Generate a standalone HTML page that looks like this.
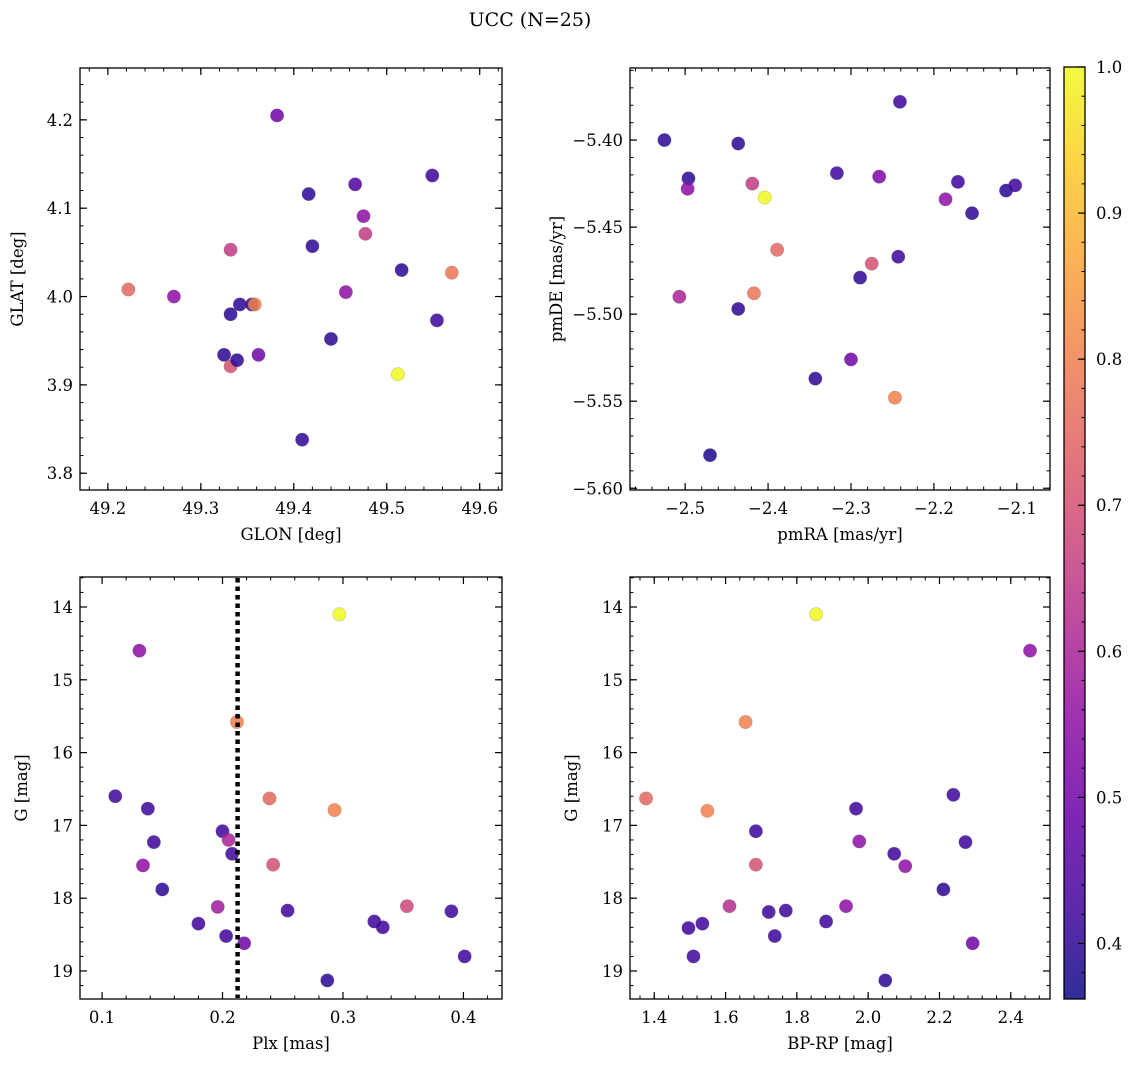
<!DOCTYPE html>
<html><head><meta charset="utf-8">
<style>
html,body{margin:0;padding:0;background:#fff;}
svg{display:block;font-family:"DejaVu Serif","Liberation Serif",serif;}
</style></head>
<body>
<svg id="fig" width="1136" height="1067" viewBox="0 0 1136 1067">
<defs>
<linearGradient id="plasma" x1="0" y1="1" x2="0" y2="0">
<stop offset="0" stop-color="#0d0887"/><stop offset="0.1" stop-color="#41049d"/>
<stop offset="0.2" stop-color="#6a00a8"/><stop offset="0.3" stop-color="#8f0da4"/>
<stop offset="0.4" stop-color="#b12a90"/><stop offset="0.5" stop-color="#cc4778"/>
<stop offset="0.6" stop-color="#e16462"/><stop offset="0.7" stop-color="#f2844b"/>
<stop offset="0.8" stop-color="#fca636"/><stop offset="0.9" stop-color="#fcce25"/>
<stop offset="1" stop-color="#f0f921"/>
</linearGradient>
</defs>
<text x="530" y="26" text-anchor="middle" font-size="19">UCC (N=25)</text>
</svg>
<script>
// ---- data ----
const glon = [49.222,49.271,49.332,49.332,49.325,49.332,49.339,49.342,49.355,49.358,49.362,49.382,49.409,49.416,49.420,49.440,49.466,49.456,49.475,49.477,49.512,49.516,49.549,49.554,49.570];
const glat = [4.008,4.000,4.053,3.980,3.934,3.921,3.928,3.991,3.991,3.991,3.934,4.205,3.838,4.116,4.057,3.952,4.127,4.005,4.091,4.071,3.912,4.030,4.137,3.973,4.027];
const probP1 = [0.75,0.55,0.65,0.4,0.4,0.7,0.4,0.4,0.4,0.8,0.5,0.5,0.4,0.4,0.4,0.4,0.45,0.55,0.55,0.65,1.0,0.4,0.42,0.42,0.78];

const pmra = [-2.525,-2.496,-2.497,-2.507,-2.436,-2.436,-2.419,-2.404,-2.417,-2.389,-2.470,-2.317,-2.343,-2.300,-2.289,-2.275,-2.266,-2.247,-2.243,-2.241,-2.186,-2.171,-2.154,-2.113,-2.102];
const pmde = [-5.400,-5.422,-5.428,-5.490,-5.402,-5.497,-5.425,-5.433,-5.488,-5.463,-5.581,-5.419,-5.537,-5.526,-5.479,-5.471,-5.421,-5.548,-5.467,-5.378,-5.434,-5.424,-5.442,-5.429,-5.426];
const probP2 = [0.4,0.4,0.55,0.6,0.4,0.4,0.65,1.0,0.78,0.75,0.38,0.42,0.4,0.5,0.4,0.7,0.52,0.8,0.42,0.42,0.55,0.42,0.4,0.4,0.42];

const plx = [0.111,0.131,0.134,0.138,0.143,0.150,0.180,0.196,0.200,0.203,0.205,0.208,0.212,0.218,0.239,0.242,0.254,0.287,0.293,0.297,0.326,0.333,0.353,0.390,0.401];
const gmag3 = [16.6,14.6,17.55,16.77,17.23,17.88,18.35,18.12,17.08,18.52,17.2,17.39,15.58,18.62,16.63,17.54,18.17,19.13,16.79,14.1,18.32,18.4,18.11,18.18,18.8];
const probP3 = [0.42,0.55,0.55,0.42,0.42,0.4,0.42,0.58,0.42,0.42,0.6,0.42,0.8,0.5,0.75,0.7,0.42,0.4,0.8,1.0,0.42,0.42,0.68,0.42,0.42];
const plxLine = 0.2125;

const bprp = [1.377,1.549,1.656,1.854,1.685,1.685,1.611,1.496,1.535,1.510,1.721,1.738,1.769,1.882,1.966,1.975,1.938,2.048,2.073,2.104,2.211,2.239,2.273,2.293,2.454];
const gmag4 = [16.63,16.8,15.58,14.1,17.08,17.54,18.11,18.41,18.35,18.8,18.19,18.52,18.17,18.32,16.77,17.22,18.11,19.13,17.39,17.56,17.88,16.58,17.23,18.62,14.6];
const probP4 = [0.75,0.8,0.8,1.0,0.42,0.7,0.62,0.42,0.42,0.42,0.42,0.42,0.42,0.42,0.42,0.55,0.55,0.4,0.42,0.55,0.4,0.42,0.42,0.5,0.55];

const ticks1x=[49.2,49.3,49.4,49.5,49.6], ticks1y=[3.8,3.9,4.0,4.1,4.2];
const ticks2x=[-2.5,-2.4,-2.3,-2.2,-2.1], ticks2y=[-5.60,-5.55,-5.50,-5.45,-5.40];
const ticks3x=[0.1,0.2,0.3,0.4], ticksGy=[14,15,16,17,18,19];
const ticks4x=[1.4,1.6,1.8,2.0,2.2,2.4];
const cbTicks=[0.4,0.5,0.6,0.7,0.8,0.9,1.0];

const NS="http://www.w3.org/2000/svg";
const svg=document.getElementById('fig');
function el(tag,attrs,parent){const e=document.createElementNS(NS,tag);for(const k in attrs)e.setAttribute(k,attrs[k]);(parent||svg).appendChild(e);return e;}

const stops=[[13,8,135],[65,4,157],[106,0,168],[143,13,164],[177,42,144],[204,71,120],[225,100,98],[242,132,75],[252,166,54],[252,206,37],[240,249,33]];
const cmin=0.362,cmax=1.0;
function cmap(v){let t=(v-cmin)/(cmax-cmin);t=Math.max(0,Math.min(1,t))*10;const i=Math.min(9,Math.floor(t)),f=t-i;const a=stops[i],b=stops[i+1];
 return 'rgb('+a.map((c,j)=>Math.round(c+(b[j]-c)*f)).join(',')+')';}

const FS=16.5;
function panel(name,box,xr,yr,xt,yt,xminor,yminor,xfmt,yfmt,xlabel,ylabel,xs,ys,cs,invert,yoff){
 const [L,T,R,B]=box;
 const g=el('g',{});
 
 
 const X=v=>L+(v-xr[0])/(xr[1]-xr[0])*(R-L);
 const Y=invert? (v=>T+(v-yr[0])/(yr[1]-yr[0])*(B-T)) : (v=>B-(v-yr[0])/(yr[1]-yr[0])*(B-T));
 const mg=el('g',{stroke:'#000','stroke-width':1},g);
 for(let v=Math.ceil(xr[0]/xminor)*xminor; v<=xr[1]; v+=xminor){const x=X(v);el('line',{x1:x,x2:x,y1:B,y2:B-3.5},mg);el('line',{x1:x,x2:x,y1:T,y2:T+3.5},mg);}
 for(let v=Math.ceil(Math.min(...yr)/yminor)*yminor; v<=Math.max(...yr); v+=yminor){const y=Y(v);el('line',{x1:L,x2:L+3.5,y1:y,y2:y},mg);el('line',{x1:R,x2:R-3.5,y1:y,y2:y},mg);}
 xt.forEach(v=>{const x=X(v);el('line',{x1:x,x2:x,y1:B,y2:B-7,stroke:'#000','stroke-width':1.2},g);el('line',{x1:x,x2:x,y1:T,y2:T+7,stroke:'#000','stroke-width':1.2},g);
  const t=el('text',{x:x,y:B+24,'text-anchor':'middle','font-size':FS},g);t.textContent=xfmt(v);
  
  });
 yt.forEach(v=>{const y=Y(v);el('line',{x1:L,x2:L+7,y1:y,y2:y,stroke:'#000','stroke-width':1.2},g);el('line',{x1:R,x2:R-7,y1:y,y2:y,stroke:'#000','stroke-width':1.2},g);
  const t=el('text',{x:L-7,y:y+6,'text-anchor':'end','font-size':FS},g);t.textContent=yfmt(v);
  
  });
 const xl=el('text',{x:(L+R)/2,y:B+50,'text-anchor':'middle','font-size':FS},g);xl.textContent=xlabel;
 
 
 const yx=L-yoff, yy=(T+B)/2;
 const yl=el('text',{x:yx,y:yy,'text-anchor':'middle','font-size':FS,transform:'rotate(-90 '+yx+' '+yy+')'},g);yl.textContent=ylabel;
 
 
 xs.forEach((v,i)=>{const c=el('circle',{cx:X(v),cy:Y(ys[i]),r:6.7,fill:cmap(cs[i]),'fill-opacity':0.85,stroke:'#666','stroke-opacity':0.35,'stroke-width':0.6},g);
  
  });
 el('rect',{x:L,y:T,width:R-L,height:B-T,fill:'none',stroke:'#000','stroke-width':1.3},g);
 return {X,Y,g};
}
const f1=v=>v.toFixed(1), f2=v=>'\u2212'+Math.abs(v).toFixed(2), fn1=v=>'\u2212'+Math.abs(v).toFixed(1), fi=v=>String(v);
panel('glon-glat-panel',[80,68,502,490],[49.170,49.624],[3.781,4.2587],ticks1x,ticks1y,0.02,0.02,f1,f1,'GLON [deg]','GLAT [deg]',glon,glat,probP1,false,57);
panel('pm-panel',[630,68,1050,490],[-2.5665,-2.060],[-5.601,-5.3586],ticks2x,ticks2y,0.02,0.01,fn1,f2,'pmRA [mas/yr]','pmDE [mas/yr]',pmra,pmde,probP2,false,68);
const p3=panel('plx-g-panel',[80,577,502,999],[0.0817,0.432],[13.588,19.385],ticks3x,ticksGy,0.02,0.2,f1,fi,'Plx [mas]','G [mag]',plx,gmag3,probP3,true,53);
panel('cmd-panel',[630,577,1050,999],[1.332,2.510],[13.588,19.385],ticks4x,ticksGy,0.04,0.2,f1,fi,'BP-RP [mag]','G [mag]',bprp,gmag4,probP4,true,53);
const lx=p3.X(plxLine);
const dl=el('line',{x1:lx,x2:lx,y1:578,y2:998,stroke:'#000','stroke-width':4.5,'stroke-dasharray':'4.5 4'});


const cb=el('g',{});


const cL=1064,cR=1085,cT=67,cB=999;
const CY=v=>cB-(v-cmin)/(cmax-cmin)*(cB-cT);
el('rect',{x:cL,y:cT,width:cR-cL,height:cB-cT,fill:'url(#plasma)','fill-opacity':0.85},cb);
for(let v=0.38;v<=1.0001;v+=0.02){const y=CY(v);el('line',{x1:cR,x2:cR-3.5,y1:y,y2:y,stroke:'#000','stroke-width':1},cb);}
cbTicks.forEach(v=>{const y=CY(v);el('line',{x1:cR,x2:cR-7,y1:y,y2:y,stroke:'#000','stroke-width':1.2},cb);
 const t=el('text',{x:cR+11,y:y+6,'font-size':FS},cb);t.textContent=v.toFixed(1);
 
 });
el('rect',{x:cL,y:cT,width:cR-cL,height:cB-cT,fill:'none',stroke:'#000','stroke-width':1.3},cb);
</script>
</body></html>
